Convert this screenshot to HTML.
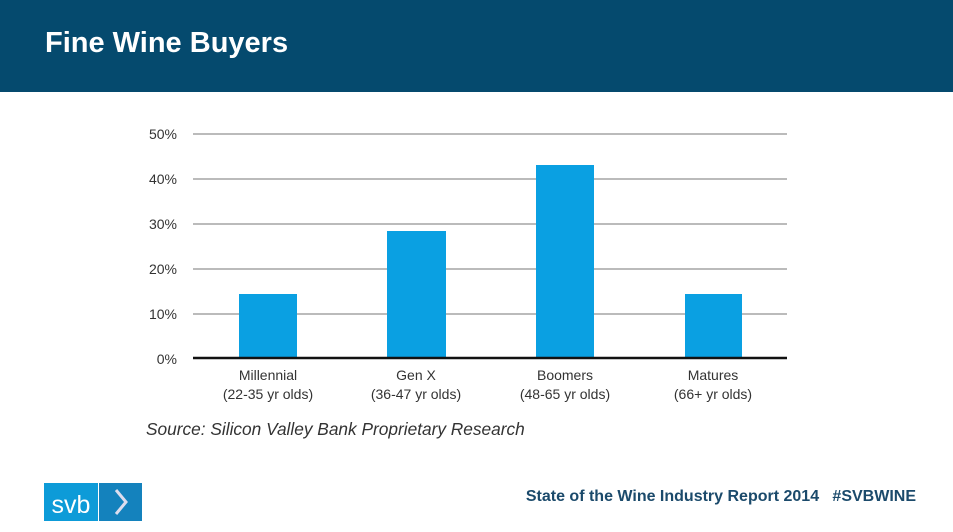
<!DOCTYPE html>
<html><head><style>
body{margin:0;width:953px;height:532px;background:#fff;position:relative;overflow:hidden;font-family:"Liberation Sans",sans-serif}
.hdr{position:absolute;left:0;top:0;width:953px;height:92px;background:#054a6e}
.hdr h1{position:absolute;left:45px;top:27px;margin:0;color:#fff;font-size:29px;font-weight:bold}
.lbl{position:absolute;width:160px;text-align:center;font-size:14px;color:#333;line-height:19px}
</style></head><body>
<div class="hdr"><h1>Fine Wine Buyers</h1></div>
<svg width="953" height="532" style="position:absolute;left:0;top:0">
<g stroke="#777" stroke-width="1">
<line x1="193" x2="787" y1="134" y2="134"/><line x1="193" x2="787" y1="179" y2="179"/>
<line x1="193" x2="787" y1="224" y2="224"/><line x1="193" x2="787" y1="269" y2="269"/>
<line x1="193" x2="787" y1="314" y2="314"/></g>
<g fill="#0aa0e2">
<rect x="239" y="294" width="58" height="64"/><rect x="387" y="231" width="59" height="127"/>
<rect x="536" y="165" width="58" height="193"/><rect x="685" y="294" width="57" height="64"/></g>
<line x1="193" x2="787" y1="358" y2="358" stroke="#111" stroke-width="2.5"/>
<g font-family="Liberation Sans" font-size="14" fill="#333" text-anchor="end">
<text x="177" y="139">50%</text><text x="177" y="184">40%</text><text x="177" y="229">30%</text>
<text x="177" y="274">20%</text><text x="177" y="319">10%</text><text x="177" y="364">0%</text></g>
<rect x="44" y="483" width="54" height="38" fill="#0d9bd8"/>
<rect x="99" y="483" width="43" height="38" fill="#1482bd"/>
<text x="71" y="513" text-anchor="middle" font-family="Liberation Sans" font-size="25" fill="#fff">svb</text>
<polyline points="116,490 126,502 116,514" fill="none" stroke="#dde" stroke-width="3"/>
</svg>
<div class="lbl" style="left:188px;top:366px">Millennial<br>(22-35 yr olds)</div>
<div class="lbl" style="left:336px;top:366px">Gen X<br>(36-47 yr olds)</div>
<div class="lbl" style="left:485px;top:366px">Boomers<br>(48-65 yr olds)</div>
<div class="lbl" style="left:633px;top:366px">Matures<br>(66+ yr olds)</div>
<div style="position:absolute;left:146px;top:419px;font-size:17.3px;font-style:italic;color:#333">Source: Silicon Valley Bank Proprietary Research</div>
<div style="position:absolute;right:37px;top:488px;font-size:16px;font-weight:bold;color:#1b4a6b;white-space:pre">State of the Wine Industry Report 2014   #SVBWINE</div>
</body></html>
